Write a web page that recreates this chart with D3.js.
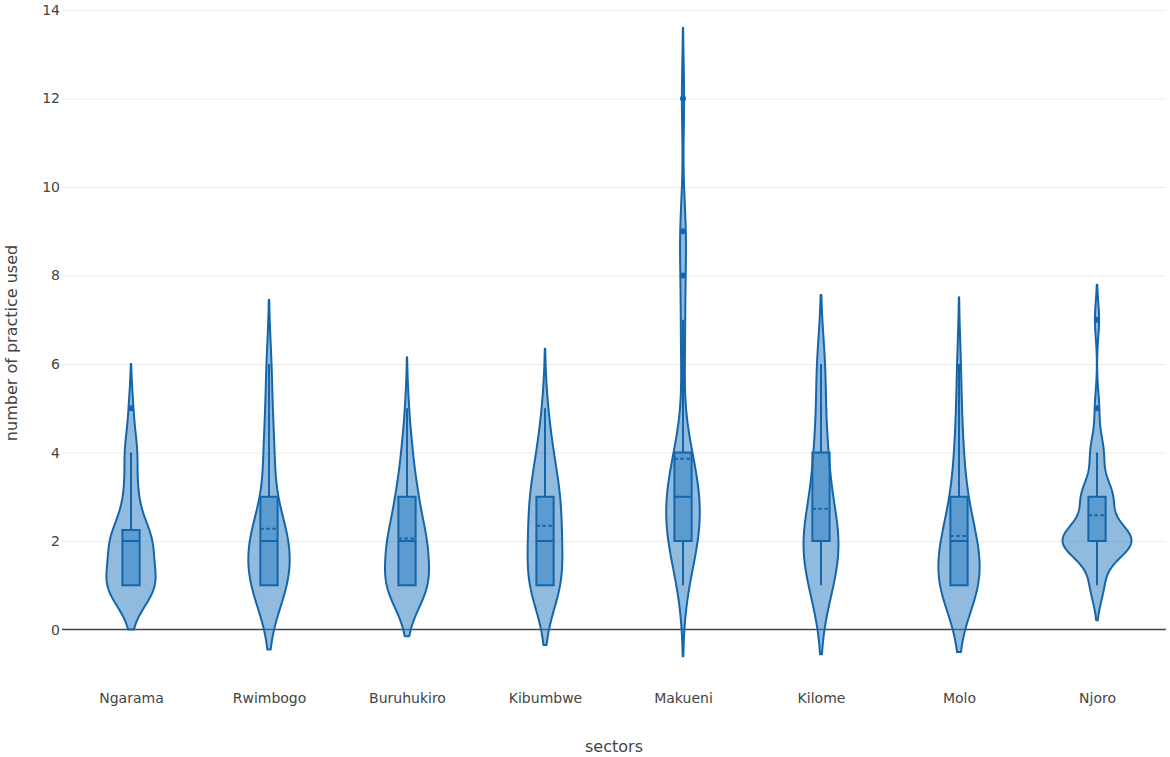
<!DOCTYPE html>
<html>
<head>
<meta charset="utf-8">
<script src="https://cdn.jsdelivr.net/npm/d3@7"></script>
<style>
  body { margin: 0; background: #fff; }
  svg { display: block; font-family: "DejaVu Sans", Verdana, sans-serif; }
</style>
</head>
<body>
<svg id="chart" width="1170" height="757"></svg>
<script>
// ---- data ----
const sectors = ["Ngarama", "Rwimbogo", "Buruhukiro", "Kibumbwe", "Makueni", "Kilome", "Molo", "Njoro"];
// respondents per number of practices used (array index = number of practices, 0,1,2,...)
const ngarama    = [0, 12, 10, 3, 3, 1];
const rwimbogo   = [0, 14, 15, 3, 4, 2, 2];
const buruhukiro = [0, 13, 11, 6, 3, 1];
const kibumbwe   = [0, 7, 6, 6, 3, 1];
const makueni    = [0, 2, 8, 9, 4, 0, 1, 1, 1, 2, 0, 0, 1];
const kilome     = [0, 7, 12, 5, 4, 2, 3];
const molo       = [0, 11, 8, 3, 2, 1, 1];
const njoro      = [0, 3, 16, 7, 3, 1, 0, 1];
const counts = [ngarama, rwimbogo, buruhukiro, kibumbwe, makueni, kilome, molo, njoro];
const yTicks = [0, 2, 4, 6, 8, 10, 12, 14];
const xTitle = "sectors";
const yTitle = "number of practice used";

// ---- layout ----
const plot = { left: 62, right: 1166, top: 10, bottom: 676 };
const lineColor = "#1565aa";
const fillColor = "rgba(46,126,195,0.53)";
const textColor = "#444";

const svg = d3.select("#chart");

const x = d3.scalePoint().domain(sectors).range([plot.left, plot.right]).padding(0.5);
const y = d3.scaleLinear().domain([-1.05, 14]).range([plot.bottom, plot.top]);

// ---- statistics (box + kde like a violin plot) ----
function interp(arr, p) {
  let n = p * arr.length - 0.5;
  if (n < 0) return arr[0];
  if (n > arr.length - 1) return arr[arr.length - 1];
  const frac = n % 1;
  return frac * arr[Math.ceil(n)] + (1 - frac) * arr[Math.floor(n)];
}
function gauss(u) { return Math.exp(-0.5 * u * u) / Math.sqrt(2 * Math.PI); }

const stats = counts.map((c, i) => {
  const vals = [];
  c.forEach((k, v) => { for (let j = 0; j < k; j++) vals.push(v); });
  vals.sort((a, b) => a - b);
  const n = vals.length;
  const mean = d3.mean(vals);
  const sd = d3.deviation(vals);
  const q1 = interp(vals, 0.25), med = interp(vals, 0.5), q3 = interp(vals, 0.75);
  const iqr = q3 - q1;
  const min = vals[0], max = vals[n - 1];
  const bw = Math.max(1.059 * Math.min(sd, iqr / 1.349) * Math.pow(n, -0.2), (max - min) / 100);
  const lo = q1 - 1.5 * iqr, hi = q3 + 1.5 * iqr;
  const inside = vals.filter(v => v >= lo && v <= hi);
  const lf = Math.min(q1, d3.min(inside)), uf = Math.max(q3, d3.max(inside));
  const outliers = Array.from(new Set(vals.filter(v => v < lo || v > hi)));
  const span = [min - 2 * bw, max + 2 * bw];
  const steps = Math.ceil((span[1] - span[0]) / (bw / 12));
  const dens = [];
  for (let k = 0; k <= steps; k++) {
    const t = span[0] + (span[1] - span[0]) * k / steps;
    let s = 0;
    for (const v of vals) s += gauss((t - v) / bw);
    dens.push({ t, d: s / (n * bw) });
  }
  return { sector: sectors[i], n, mean, q1, med, q3, lf, uf, outliers, dens };
});
const maxDens = d3.max(stats, s => d3.max(s.dens, d => d.d));
const halfW = x.step() * 0.25;
const wScale = d3.scaleLinear().domain([0, maxDens]).range([0, halfW]);
const boxHalf = halfW * 0.25;

// ---- grid & axes ----
const gGrid = svg.append("g").attr("transform", `translate(${plot.left},0)`)
  .call(d3.axisLeft(y).tickValues(yTicks.filter(v => v !== 0)).tickSize(-(plot.right - plot.left)).tickFormat(""));
gGrid.select(".domain").remove();
gGrid.selectAll("line").attr("stroke", "#ebebeb").attr("stroke-width", 1);

svg.append("line")
  .attr("x1", plot.left).attr("x2", plot.right)
  .attr("y1", y(0)).attr("y2", y(0))
  .attr("stroke", "#444").attr("stroke-width", 1.5);

const gY = svg.append("g").attr("transform", `translate(${plot.left},0)`)
  .call(d3.axisLeft(y).tickValues(yTicks).tickSize(0).tickPadding(2).tickFormat(d3.format("d")));
gY.select(".domain").remove();
gY.selectAll("text").attr("fill", textColor).style("font-size", "14px")
  .style("font-family", '"DejaVu Sans", Verdana, sans-serif');

const gX = svg.append("g").attr("transform", `translate(0,${plot.bottom})`)
  .call(d3.axisBottom(x).tickSize(0).tickPadding(17));
gX.select(".domain").remove();
gX.selectAll("text").attr("fill", textColor).style("font-size", "14px")
  .style("font-family", '"DejaVu Sans", Verdana, sans-serif');

svg.append("text")
  .attr("x", (plot.left + plot.right) / 2).attr("y", 752)
  .attr("text-anchor", "middle").attr("fill", textColor).style("font-size", "16px")
  .text(xTitle);
svg.append("text")
  .attr("transform", `translate(17,${(plot.top + plot.bottom) / 2}) rotate(-90)`)
  .attr("text-anchor", "middle").attr("fill", textColor).style("font-size", "16px")
  .text(yTitle);

// ---- violins ----
const g = svg.append("g");
stats.forEach(s => {
  const cx = x(s.sector);
  const pts = s.dens.map(d => [cx + wScale(d.d), y(d.t)])
    .concat(s.dens.slice().reverse().map(d => [cx - wScale(d.d), y(d.t)]));
  g.append("path")
    .attr("d", d3.line()(pts) + "Z")
    .attr("fill", fillColor).attr("stroke", lineColor)
    .attr("stroke-width", 2).attr("stroke-linejoin", "round");

  // whiskers
  g.append("line").attr("x1", cx).attr("x2", cx).attr("y1", y(s.q3)).attr("y2", y(s.uf))
    .attr("stroke", lineColor).attr("stroke-width", 2);
  g.append("line").attr("x1", cx).attr("x2", cx).attr("y1", y(s.q1)).attr("y2", y(s.lf))
    .attr("stroke", lineColor).attr("stroke-width", 2);
  // box
  g.append("rect")
    .attr("x", cx - boxHalf).attr("width", boxHalf * 2)
    .attr("y", y(s.q3)).attr("height", y(s.q1) - y(s.q3))
    .attr("fill", fillColor).attr("stroke", lineColor).attr("stroke-width", 2);
  // mean (dashed)
  g.append("line").attr("x1", cx - boxHalf).attr("x2", cx + boxHalf)
    .attr("y1", y(s.mean)).attr("y2", y(s.mean))
    .attr("stroke", lineColor).attr("stroke-width", 2).attr("stroke-dasharray", "3.5,2.5");
  // median
  g.append("line").attr("x1", cx - boxHalf).attr("x2", cx + boxHalf)
    .attr("y1", y(s.med)).attr("y2", y(s.med))
    .attr("stroke", lineColor).attr("stroke-width", 2);
  // outliers
  s.outliers.forEach(v => {
    g.append("circle").attr("cx", cx).attr("cy", y(v)).attr("r", 3)
      .attr("fill", lineColor);
  });
});
</script>
</body>
</html>
